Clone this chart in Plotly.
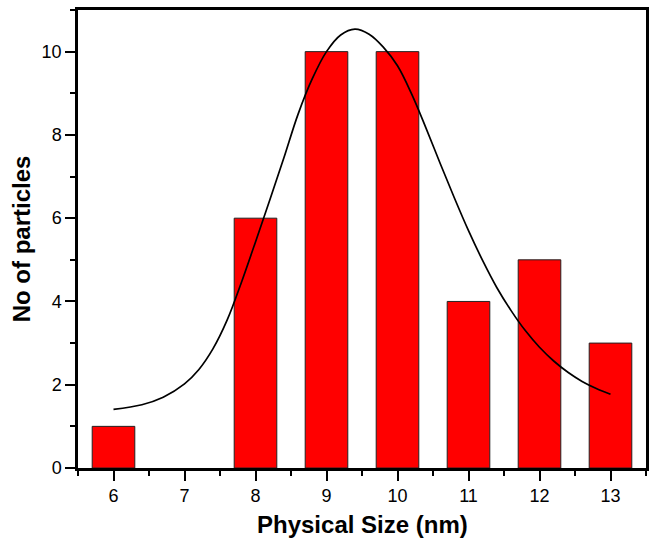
import plotly.graph_objects as go

# Histogram data
sizes = [6, 7, 8, 9, 10, 11, 12, 13]
counts = [1, 0, 6, 10, 10, 4, 5, 3]

# Fitted curve points
fit_x = [6.0, 6.4, 6.7, 7.0, 7.2, 7.4, 7.6, 7.8, 8.0, 8.2, 8.4, 8.6, 8.8, 9.0, 9.2, 9.4,
         9.6, 9.8, 10.0, 10.2, 10.4, 10.6, 10.8, 11.0, 11.2, 11.4, 11.6, 11.8, 12.0,
         12.2, 12.4, 12.6, 12.8, 13.0]
fit_y = [1.41, 1.52, 1.70, 2.02, 2.36, 2.86, 3.55, 4.45, 5.43, 6.43, 7.45, 8.50, 9.35,
         10.0, 10.40, 10.54, 10.42, 10.11, 9.66, 8.98, 8.17, 7.32, 6.49, 5.70, 4.98,
         4.33, 3.78, 3.30, 2.90, 2.57, 2.30, 2.08, 1.91, 1.77]

x_ticks = [6, 7, 8, 9, 10, 11, 12, 13]
y_ticks = [0, 2, 4, 6, 8, 10]

FONT = "Liberation Sans, Arial, sans-serif"

fig = go.Figure()
fig.add_trace(go.Bar(
    x=sizes, y=counts, width=0.6,
    marker=dict(color="#FF0000",
                line=dict(color="#222222", width=[0 if c == 0 else 1 for c in counts])),
    showlegend=False,
))
fig.add_trace(go.Scatter(
    x=fit_x, y=fit_y, mode="lines", line=dict(color="black", width=1.7, shape="spline"),
    showlegend=False,
))

fig.update_layout(
    width=653, height=539,
    margin=dict(l=78, r=7, t=10, b=71),
    plot_bgcolor="white", paper_bgcolor="white",
    font=dict(family=FONT, color="black", size=18),
)
fig.add_annotation(
    text="<b>Physical Size (nm)</b>", xref="paper", yref="paper",
    x=0.5, y=-0.1235, xanchor="center", yanchor="middle", showarrow=False,
    font=dict(size=24, family=FONT, color="black"),
)
fig.update_xaxes(
    range=[5.5, 13.5], tickvals=x_ticks, ticktext=[str(v) for v in x_ticks],
    automargin=False,
    showline=True, linecolor="black", linewidth=2.5, mirror=True,
    ticks="outside", ticklen=10, tickwidth=2, tickcolor="black",
    minor=dict(dtick=0.5, tick0=5.5, ticks="outside", ticklen=5, tickwidth=2, tickcolor="black"),
    showgrid=False, zeroline=False,
    tickfont=dict(size=18, family=FONT),
)
fig.update_yaxes(
    range=[0, 11], tickvals=y_ticks, ticktext=[str(v) for v in y_ticks],
    automargin=False,
    showline=True, linecolor="black", linewidth=2.5, mirror=True,
    ticks="outside", ticklen=10, tickwidth=2, tickcolor="black",
    minor=dict(dtick=1, tick0=1, ticks="outside", ticklen=5, tickwidth=2, tickcolor="black"),
    showgrid=False, zeroline=False,
    tickfont=dict(size=18, family=FONT),
    title=dict(text="<b>No of particles</b>", font=dict(size=24, family=FONT), standoff=5),
)

fig.write_html("out.html")
